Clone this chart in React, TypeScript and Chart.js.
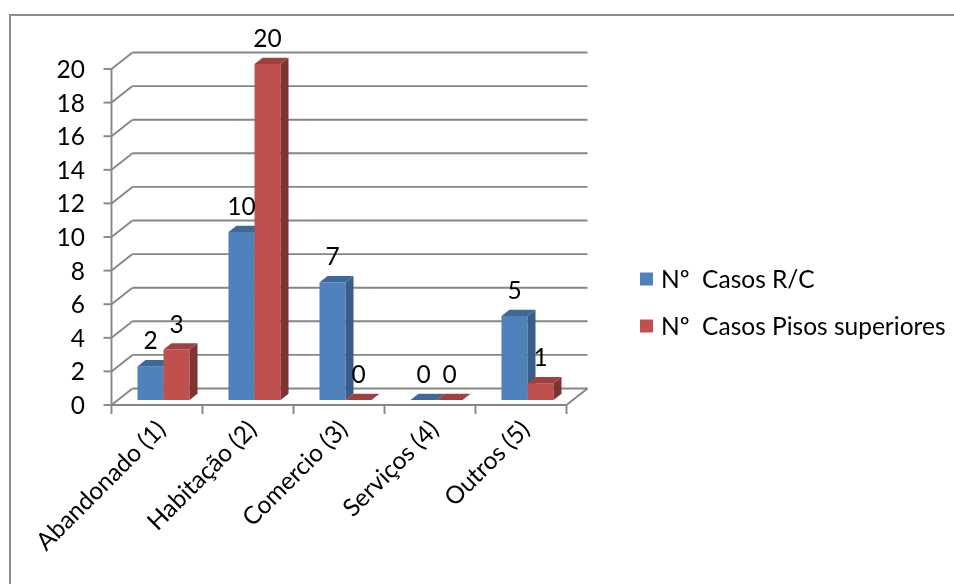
import React, { useEffect, useRef } from "react";
import { Chart, registerables } from "chart.js";

Chart.register(...registerables);

// ---- data ----
const categories = ["Abandonado (1)", "Habitação (2)", "Comercio (3)", "Serviços (4)", "Outros (5)"];
const casosRC = [2, 10, 7, 0, 5];
const casosPisosSuperiores = [3, 20, 0, 0, 1];
const seriesNames = ["Nº  Casos R/C", "Nº  Casos Pisos superiores"];
const yMax = 20;
const yStep = 2;

// ---- style ----
const FONT_FAMILY = "Lato, Carlito, 'Liberation Sans', sans-serif";
const FONT_SIZE = 24.5;
const GRID = "#868686";
const BLUE = { front: "#4F81BD", top: "#3F6898", side: "#385D8A" };
const RED = { front: "#C0504D", top: "#9E413F", side: "#7F3432" };

// projection offsets of the 3D box, relative to the plane the bars stand on
const FRONT = { dx: -6.5, dy: 5 };
const BACK = { dx: 14.5, dy: -11.5 };
const DEPTH = { dx: 8, dy: -6.3 };

type Pt = [number, number];

const box3d = {
  id: "box3d",
  beforeDraw(chart: any) {
    const { ctx, width, height } = chart;
    ctx.save();
    ctx.fillStyle = "#ffffff";
    ctx.fillRect(0, 0, width, height);
    ctx.strokeStyle = "#8c8c8c";
    ctx.lineWidth = 2;
    ctx.strokeRect(10, 15, width + 40, height + 40);
    ctx.restore();
  },
  beforeDatasetsDraw(chart: any) {
    const { ctx, chartArea: a, scales } = chart;
    const xs = scales.x;
    const ys = scales.y;
    const base = ys.getPixelForValue(0);
    const line = (x1: number, y1: number, x2: number, y2: number) => {
      ctx.beginPath();
      ctx.moveTo(x1, y1);
      ctx.lineTo(x2, y2);
      ctx.stroke();
    };
    const poly = (pts: Pt[]) => {
      ctx.beginPath();
      ctx.moveTo(pts[0][0], pts[0][1]);
      for (let k = 1; k < pts.length; k++) ctx.lineTo(pts[k][0], pts[k][1]);
      ctx.closePath();
      ctx.fill();
    };

    ctx.save();
    ctx.strokeStyle = GRID;
    ctx.lineWidth = 1.9;
    ctx.lineCap = "butt";

    // back wall gridlines, side wall lines and value-axis ticks
    ys.ticks.forEach((t: any) => {
      const y = ys.getPixelForValue(t.value);
      line(a.left + BACK.dx, y + BACK.dy, a.right + BACK.dx, y + BACK.dy);
      line(a.left + FRONT.dx, y + FRONT.dy, a.left + BACK.dx, y + BACK.dy);
      line(a.left + FRONT.dx - 8, y + FRONT.dy, a.left + FRONT.dx, y + FRONT.dy);
    });

    // floor front and right edges
    line(a.left + FRONT.dx, base + FRONT.dy, a.right + FRONT.dx, base + FRONT.dy);
    line(a.right + FRONT.dx, base + FRONT.dy, a.right + BACK.dx, base + BACK.dy);

    // value axis
    line(a.left + FRONT.dx, ys.getPixelForValue(ys.max) + FRONT.dy, a.left + FRONT.dx, base + FRONT.dy);

    // category separators
    const n = chart.data.labels.length;
    const half = (a.right - a.left) / n / 2;
    for (let i = 0; i <= n; i++) {
      const x = (i < n ? xs.getPixelForValue(i) - half : xs.getPixelForValue(n - 1) + half) + FRONT.dx;
      line(x, base + FRONT.dy, x, base + FRONT.dy + 9);
    }

    // columns, drawn back-to-front so each front face hides its neighbour's side
    for (let j = 0; j < n; j++) {
      chart.data.datasets.forEach((ds: any, i: number) => {
        const el = chart.getDatasetMeta(i).data[j];
        const { x, y, base: b, width } = el.getProps(["x", "y", "base", "width"], true);
        const l = x - width / 2;
        const r = x + width / 2;
        el.draw(ctx, a);
        ctx.fillStyle = ds.faceColors.side;
        poly([[r, y], [r + DEPTH.dx, y + DEPTH.dy], [r + DEPTH.dx, b + DEPTH.dy], [r, b]]);
        ctx.fillStyle = ds.faceColors.top;
        poly([[l, y], [l + DEPTH.dx, y + DEPTH.dy], [r + DEPTH.dx, y + DEPTH.dy], [r, y]]);
      });
    }
    ctx.restore();
    return false;
  },
  afterDraw(chart: any) {
    const { ctx } = chart;
    ctx.save();
    ctx.font = `${FONT_SIZE}px ${FONT_FAMILY}`;
    ctx.fillStyle = "#000";
    ctx.textAlign = "center";
    ctx.textBaseline = "middle";

    // value labels above each column
    chart.data.datasets.forEach((ds: any, i: number) => {
      chart.getDatasetMeta(i).data.forEach((el: any, j: number) => {
        ctx.fillText(String(ds.data[j]), el.x, el.y - 25);
      });
    });

    // legend
    ctx.textAlign = "left";
    chart.data.datasets.forEach((ds: any, i: number) => {
      const cy = 279.5 + i * 47;
      ctx.fillStyle = ds.backgroundColor;
      ctx.fillRect(640, cy - 7, 13, 13);
      ctx.fillStyle = "#000";
      ctx.fillText(ds.label, 661, cy + 1);
    });
    ctx.restore();
  },
};

export default function App() {
  const canvasRef = useRef<HTMLCanvasElement | null>(null);

  useEffect(() => {
    let chart: Chart | null = null;
    let cancelled = false;

    const build = () => {
      if (cancelled || !canvasRef.current) return;
      chart = new Chart(canvasRef.current, {
        type: "bar",
        data: {
          labels: categories,
          datasets: [
            {
              label: seriesNames[0],
              data: casosRC,
              backgroundColor: BLUE.front,
              faceColors: BLUE,
            } as any,
            {
              label: seriesNames[1],
              data: casosPisosSuperiores,
              backgroundColor: RED.front,
              faceColors: RED,
            } as any,
          ],
        },
        options: {
          responsive: false,
          maintainAspectRatio: false,
          animation: false,
          devicePixelRatio: 1,
          layout: { padding: { left: 0, top: 64, right: 427, bottom: 0 } },
          datasets: { bar: { barPercentage: 1, categoryPercentage: 0.572, borderWidth: 0 } },
          plugins: {
            legend: { display: false },
            tooltip: { enabled: false },
          },
          scales: {
            x: {
              grid: { display: false, drawTicks: false },
              border: { display: false },
              ticks: {
                autoSkip: false,
                minRotation: 45,
                maxRotation: 45,
                padding: 15,
                labelOffset: -2,
                color: "#000",
                font: { family: FONT_FAMILY, size: FONT_SIZE },
              },
              afterFit: (s: any) => {
                s.height = 220;
              },
            },
            y: {
              min: 0,
              max: yMax,
              grid: { display: false, drawTicks: false },
              border: { display: false },
              ticks: {
                stepSize: yStep,
                padding: 33,
                labelOffset: 6,
                color: "#000",
                font: { family: FONT_FAMILY, size: FONT_SIZE },
              },
              afterFit: (s: any) => {
                s.width = 118;
              },
            },
          },
        },
        plugins: [box3d],
      });
    };

    const fonts: any = (document as any).fonts;
    if (fonts && fonts.load) {
      fonts.load(`${FONT_SIZE}px Lato`).then(build, build);
    } else {
      build();
    }

    return () => {
      cancelled = true;
      if (chart) chart.destroy();
    };
  }, []);

  return (
    <div
      style={{
        position: "fixed",
        left: 0,
        top: 0,
        width: 954,
        height: 584,
        overflow: "hidden",
        background: "#fff",
      }}
    >
      <canvas
        ref={canvasRef}
        width={1000}
        height={620}
        style={{ display: "block", width: 1000, height: 620 }}
      />
    </div>
  );
}
